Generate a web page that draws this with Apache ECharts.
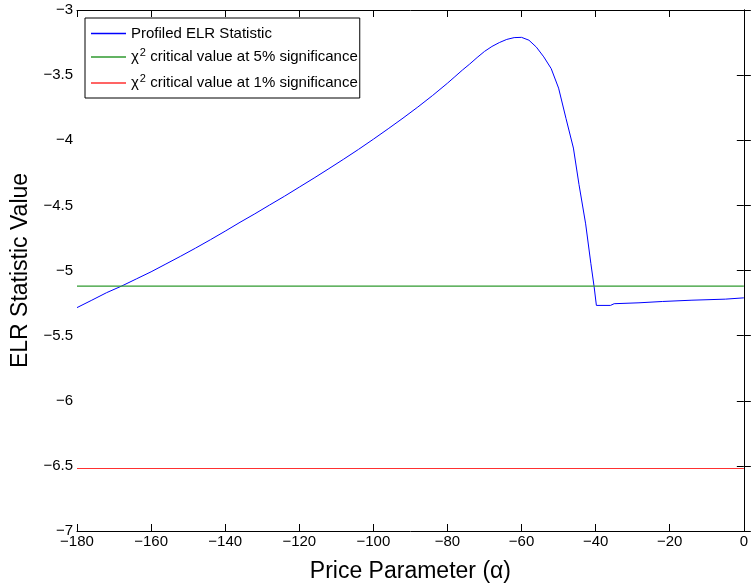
<!DOCTYPE html>
<html>
<head>
<meta charset="utf-8">
<script src="https://cdn.jsdelivr.net/npm/echarts@6/dist/echarts.min.js"></script>
<style>
html,body{margin:0;padding:0;background:#fff;}
#chart{width:751px;height:588px;}
</style>
</head>
<body>
<div id="chart"></div>
<script>
// Price parameter (alpha) values and the profiled ELR statistic
var alphaValues = [-180,-176,-172,-168,-164,-160,-156,-152,-148,-144,-140,-136,-132,-128,-124,-120,-116,-112,-108,-104,-100,-96,-92,-88,-84,-80,-78,-76,-74,-72,-70,-68,-66,-64,-62,-60,-58,-56,-54,-52,-50,-48,-46,-44.5,-42.7,-41.3,-40.4,-39.8,-36,-35,-28.3,-27.8,-22,-21.6,-14,-13.5,-5,-4.5,0];
var elrValues = [-5.285,-5.228,-5.170,-5.120,-5.065,-5.010,-4.950,-4.890,-4.828,-4.764,-4.698,-4.630,-4.565,-4.497,-4.430,-4.360,-4.290,-4.218,-4.145,-4.070,-3.992,-3.912,-3.830,-3.745,-3.656,-3.562,-3.512,-3.462,-3.415,-3.365,-3.318,-3.280,-3.250,-3.226,-3.212,-3.210,-3.232,-3.285,-3.360,-3.450,-3.600,-3.833,-4.060,-4.339,-4.642,-4.945,-5.127,-5.268,-5.268,-5.255,-5.248,-5.242,-5.238,-5.230,-5.228,-5.222,-5.220,-5.210,-5.210];
// Critical value levels
var critical5 = -5.12;
var critical1 = -6.52;
var xRange = [-180, 0];
var xTicks = [-180,-160,-140,-120,-100,-80,-60,-40,-20,0];
var yTicks = [-7,-6.5,-6,-5.5,-5,-4.5,-4,-3.5,-3];

var seriesNames = ['Profiled ELR Statistic','χ² critical value at 5% significance','χ² critical value at 1% significance'];

var curve = alphaValues.map(function(a,i){return [a, elrValues[i]];});
var line5 = xRange.map(function(a){return [a, critical5];});
var line1 = xRange.map(function(a){return [a, critical1];});

function minusFmt(v){ return String(v).replace('-', '\u2212'); }

var FONT = 'Liberation Sans, Arial, Helvetica, sans-serif';
var chart = echarts.init(document.getElementById('chart'), null, {renderer:'canvas'});

var axisCommon = {
  type:'value',
  axisLine:{show:true,lineStyle:{color:'#000',width:1}},
  axisTick:{show:true,inside:true,length:7,lineStyle:{color:'#000',width:1}},
  splitLine:{show:false}
};

chart.setOption({
  animation:false,
  backgroundColor:'#fff',
  grid:{left:77,right:6,top:10,bottom:50,containLabel:false},
  xAxis:[
    Object.assign({}, axisCommon, {
      min:xTicks[0], max:xTicks[xTicks.length-1], interval:20, position:'bottom',
      axisLabel:{show:true,color:'#000',fontFamily:FONT,fontSize:15,margin:3,formatter:minusFmt},
      name:'Price Parameter (α)', nameLocation:'middle', nameGap:29,
      nameTextStyle:{color:'#000',fontFamily:FONT,fontSize:23}
    }),
    Object.assign({}, axisCommon, {
      min:xTicks[0], max:xTicks[xTicks.length-1], interval:20, position:'top',
      axisLabel:{show:false}
    })
  ],
  yAxis:[
    Object.assign({}, axisCommon, {
      min:yTicks[0], max:yTicks[yTicks.length-1], interval:0.5, position:'left',
      axisLabel:{show:true,color:'#000',fontFamily:FONT,fontSize:15,margin:4,formatter:minusFmt},
      name:'ELR Statistic Value', nameLocation:'middle', nameGap:37, nameRotate:90,
      nameTextStyle:{color:'#000',fontFamily:FONT,fontSize:23}
    }),
    Object.assign({}, axisCommon, {
      min:yTicks[0], max:yTicks[yTicks.length-1], interval:0.5, position:'right',
      axisLabel:{show:false}
    })
  ],
  legend:{
    orient:'vertical', left:85, top:18,
    backgroundColor:'#fff', borderColor:'#000', borderWidth:1,
    padding:[8,2,5,6], itemGap:6, itemWidth:35, itemHeight:1.5,
    icon:'rect',
    data:seriesNames,
    formatter:function(name){
      if(name.indexOf('χ²')===0){
        return '{t|χ}{s|2}{t|'+name.slice(2)+'}';
      }
      return '{t|'+name+'}';
    },
    textStyle:{
      color:'#000', fontFamily:FONT, fontSize:15, padding:[0,0,0,0],
      rich:{
        t:{fontFamily:FONT,fontSize:15,color:'#000',lineHeight:19},
        s:{fontFamily:FONT,fontSize:11,color:'#000',padding:[0,0,9,1],lineHeight:19}
      }
    }
  },
  series:[
    {name:seriesNames[0],type:'line',data:curve,showSymbol:false,symbol:'none',
     lineStyle:{color:'#0000ff',width:1},itemStyle:{color:'#0000ff'},z:3},
    {name:seriesNames[1],type:'line',data:line5,showSymbol:false,symbol:'none',
     lineStyle:{color:'#2f9a2f',width:1.2},itemStyle:{color:'#2f9a2f'}},
    {name:seriesNames[2],type:'line',data:line1,showSymbol:false,symbol:'none',
     lineStyle:{color:'#ff3030',width:1.2},itemStyle:{color:'#ff3030'}}
  ]
});
</script>
</body>
</html>
